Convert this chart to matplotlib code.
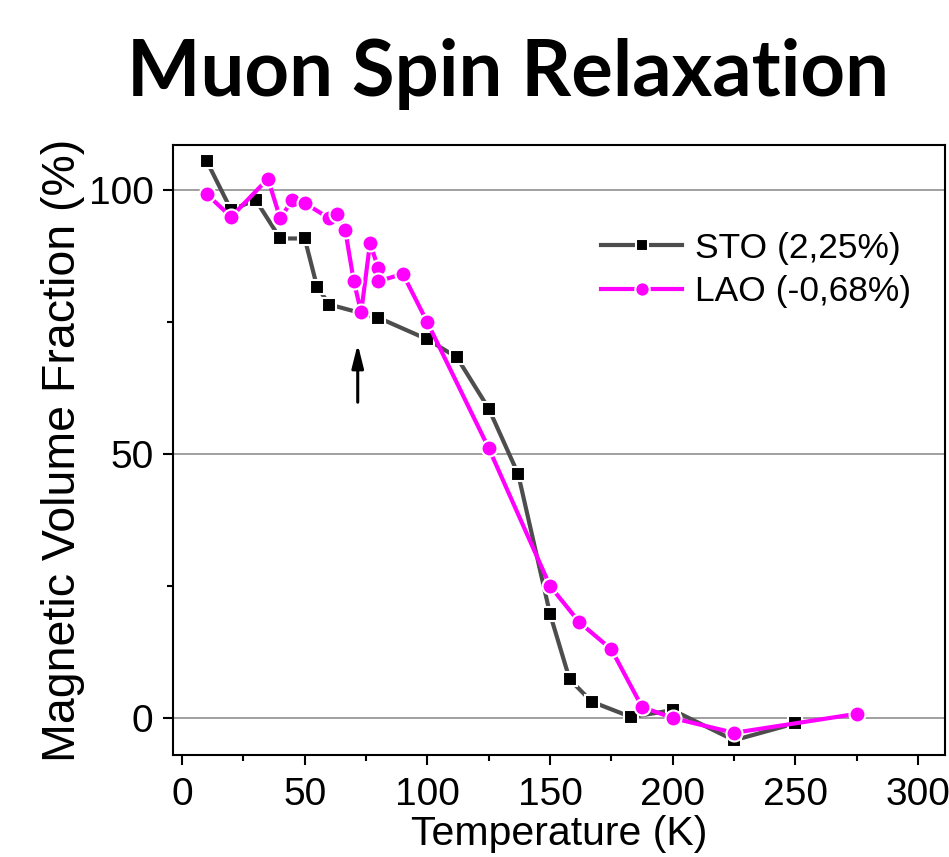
import matplotlib
matplotlib.use("Agg")
import matplotlib.pyplot as plt
from matplotlib.ticker import MultipleLocator

# STO (2,25%) : temperature (K), magnetic volume fraction (%)
sto_T = [10, 20, 30, 40, 50, 55, 60, 80, 100, 112, 125, 137, 150, 158, 167, 183, 200, 225, 250]
sto_f = [105.5, 96.2, 98.1, 90.8, 90.8, 81.7, 78.3, 75.8, 71.7, 68.3, 58.6, 46.2, 19.7, 7.3, 3.1, 0.2, 1.5, -4.2, -1.0]

# LAO (-0,68%)
lao_T = [10, 20, 35, 40, 45, 50, 60, 63.3, 66.5, 70, 73, 76.6, 80, 80, 90, 100, 125, 150, 162, 175, 187.5, 200, 225, 275]
lao_f = [99.2, 94.9, 102.1, 94.6, 98.1, 97.5, 94.6, 95.5, 92.4, 82.7, 76.8, 89.9, 85.2, 82.7, 84.1, 74.9, 51.1, 25.0, 18.1, 13.0, 2.1, 0.0, -2.8, 0.8]

labels = ["STO (2,25%)", "LAO (-0,68%)"]

GREY_LINE = "#4d4d4d"
MAGENTA = "#ff00ff"

plt.rcParams.update({
    "font.family": ["Liberation Sans", "DejaVu Sans"],
    "axes.linewidth": 1.5,
})

fig = plt.figure(figsize=(9.49, 8.57), dpi=100)
ax = fig.add_axes([0.1823, 0.119, 0.8135, 0.7118])

ax.plot(sto_T, sto_f, "-s", color=GREY_LINE, lw=3, ms=9.5, mfc="black",
        mec="white", mew=1.5, label=labels[0], zorder=3)
ax.plot(lao_T, lao_f, "-o", color=MAGENTA, lw=3, ms=11.5, mfc=MAGENTA,
        mec="white", mew=1.5, label=labels[1], zorder=4)

ax.set_xlim(-3.7, 311)
ax.set_ylim(-7, 108.5)
ax.xaxis.set_major_locator(MultipleLocator(50))
ax.xaxis.set_minor_locator(MultipleLocator(25))
ax.yaxis.set_major_locator(MultipleLocator(50))
ax.yaxis.set_minor_locator(MultipleLocator(25))
ax.grid(True, axis="y", which="major", color="#858585", lw=1.1, zorder=0)
ax.set_axisbelow(True)

ax.tick_params(which="major", direction="out", length=7, width=1.5,
               labelsize=28, pad=7)
ax.tick_params(which="minor", direction="out", length=4.5, width=1.5)
ax.tick_params(axis="x", which="major", pad=9)

ax.set_xlabel("Temperature (K)", fontsize=29.5, labelpad=1)
ax.set_ylabel("Magnetic Volume Fraction (%)", fontsize=33.5, labelpad=3)

# arrow marking the anomaly near 72 K
ax.annotate("", xy=(71.6, 70.8), xytext=(71.6, 59.8),
            arrowprops=dict(arrowstyle="-|>,head_length=1.4,head_width=0.35",
                            color="black", lw=2.2, shrinkA=0, shrinkB=0))

leg = ax.legend(loc="upper right", bbox_to_anchor=(0.997, 0.91), frameon=False,
                fontsize=25.5, handlelength=2.3, handletextpad=0.35,
                labelspacing=0.3, markerscale=0.9)

fig.text(0.535, 0.914, "Muon Spin Relaxation", ha="center", va="center",
         fontsize=56, fontweight="bold", family=["Lato", "DejaVu Sans"])

fig.savefig("out.png", dpi=100)
